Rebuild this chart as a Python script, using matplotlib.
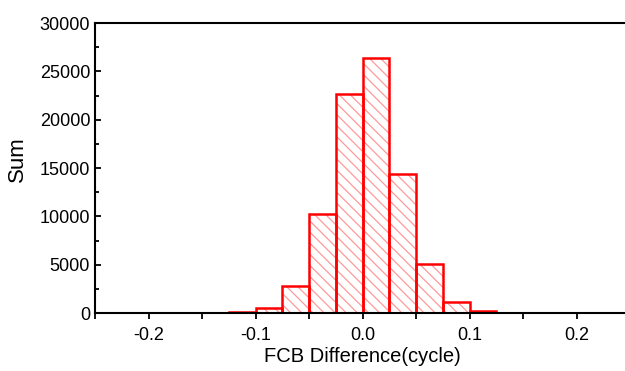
import numpy as np
import matplotlib.pyplot as plt
from matplotlib.ticker import MultipleLocator

plt.rcParams['font.family'] = ['Liberation Sans', 'DejaVu Sans']
plt.rcParams['hatch.linewidth'] = 0.9

# bin edges of the histogram (cycle) and counts per bin
bin_edges = [-0.15, -0.125, -0.1, -0.075, -0.05, -0.025, 0.0,
             0.025, 0.05, 0.075, 0.1, 0.125, 0.15]
counts = [40, 100, 520, 2790, 10270, 22620, 26340,
          14380, 5040, 1170, 200, 50]

left = np.array(bin_edges[:-1])
width = np.diff(bin_edges)

fig = plt.figure(figsize=(6.25, 3.71), dpi=100)
ax = fig.add_axes([95 / 625, (371 - 313) / 371, (630 - 95) / 625, (313 - 23) / 371])

# hatch in light red, outline in full red
ax.bar(left, counts, width=width, align='edge', color='none',
       edgecolor='#ff9999', linewidth=0, hatch='\\\\\\')
ax.bar(left, counts, width=width, align='edge', color='none',
       edgecolor='red', linewidth=1.8)

ax.set_xlim(-0.25, 0.25)
ax.set_ylim(0, 30000)
ax.xaxis.set_major_locator(MultipleLocator(0.1))
ax.xaxis.set_minor_locator(MultipleLocator(0.05))
ax.yaxis.set_major_locator(MultipleLocator(5000))
ax.yaxis.set_minor_locator(MultipleLocator(2500))
ax.set_xticks([-0.2, -0.1, 0.0, 0.1, 0.2])
ax.set_xticklabels(['-0.2', '-0.1', '0.0', '0.1', '0.2'])

for s in ax.spines.values():
    s.set_linewidth(1.5)
ax.tick_params(axis='x', which='both', direction='out', length=4, width=1.3, labelsize=13, pad=6)
ax.tick_params(axis='y', which='both', direction='in', length=4, width=1.3, labelsize=13)
ax.tick_params(axis='y', which='minor', length=3)

ax.set_xlabel('FCB Difference(cycle)', fontsize=14.5, labelpad=2)
ax.set_ylabel('Sum', fontsize=16)
ax.yaxis.set_label_coords(-0.125, 0.53)

fig.savefig('out.png', dpi=100)
